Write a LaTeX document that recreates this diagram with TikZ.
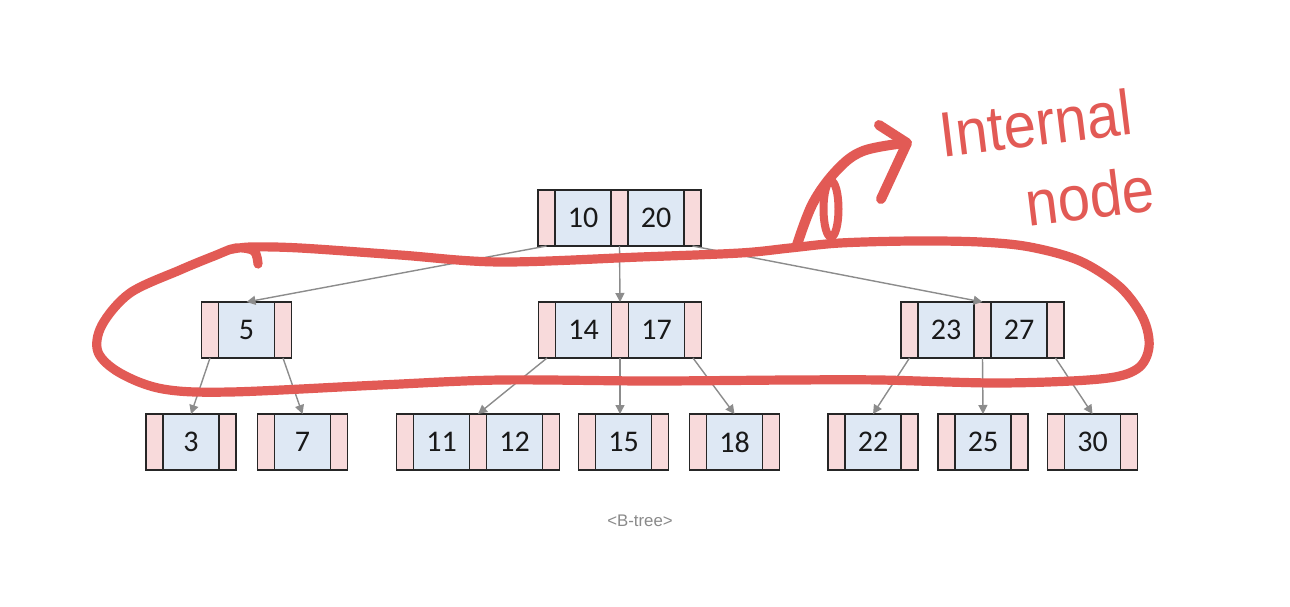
\documentclass[tikz,border=0pt]{standalone}
\usepackage{fontspec}
\setmainfont{Carlito}
\newfontfamily\capfont{Liberation Sans}
\newfontfamily\handfont{Liberation Sans}
\usetikzlibrary{arrows.meta}
\definecolor{ptrfill}{HTML}{F8DADB}
\definecolor{keyfill}{HTML}{DEE8F4}
\definecolor{edgegray}{HTML}{8C8C8C}
\definecolor{penred}{HTML}{E25A55}
\definecolor{capgray}{HTML}{8A8A8A}
\tikzset{
  ptrcell/.style={draw=black!85, line width=0.75pt, fill=ptrfill, minimum width=8.5pt, minimum height=28pt, inner sep=0pt, outer sep=0pt},
  keycell/.style={draw=black!85, line width=0.75pt, fill=keyfill, minimum width=28pt, minimum height=28pt, inner sep=0pt, outer sep=0pt, font=\fontsize{15}{18}\selectfont, text=black!90},
  treeedge/.style={draw=edgegray, line width=0.7pt, -{Triangle[length=4.5pt,width=4.5pt]}},
  penstroke/.style={draw=penred, line width=4.6pt, line cap=round, line join=round},
  handtext/.style={text=penred, font=\handfont\fontsize{29}{34}\selectfont, inner sep=0pt, rotate=7, yscale=1.1}
}
\newcommand{\bkeyone}[4]{%
  \node[keycell] (#1-k1) at (#2,#3) {#4};
  \node[ptrcell, anchor=east] (#1-p0) at (#1-k1.west) {};
  \node[ptrcell, anchor=west] (#1-p1) at (#1-k1.east) {};
}
\newcommand{\bkeytwo}[5]{%
  \node[ptrcell] (#1-p1) at (#2,#3) {};
  \node[keycell, anchor=east] (#1-k1) at (#1-p1.west) {#4};
  \node[ptrcell, anchor=east] (#1-p0) at (#1-k1.west) {};
  \node[keycell, anchor=west] (#1-k2) at (#1-p1.east) {#5};
  \node[ptrcell, anchor=west] (#1-p2) at (#1-k2.east) {};
}
\begin{document}
\begin{tikzpicture}[x=0.5pt, y=-0.5pt]
\fill[white] (0,0) rectangle (1290,606);
\path[use as bounding box] (0,0) rectangle (1290,606);

% level 1
\bkeytwo{root}{619.5}{218}{10}{20}
% level 2
\bkeyone{nfive}{246.5}{330}{5}
\bkeytwo{nmid}{620}{330}{14}{17}
\bkeytwo{nright}{982.5}{330}{23}{27}
% level 3
\bkeyone{lthree}{191}{442}{3}
\bkeyone{lseven}{302.5}{442}{7}
\bkeytwo{leleven}{478}{442}{11}{12}
\bkeyone{lfifteen}{623.5}{442}{15}
\bkeyone{leighteen}{734.5}{442}{18}
\bkeyone{ltwentytwo}{873}{442}{22}
\bkeyone{ltwentyfive}{983}{442}{25}
\bkeyone{lthirty}{1092.5}{442}{30}

% edges
\draw[treeedge] (root-p0.south) -- (nfive-k1.north);
\draw[treeedge] (root-p1.south) -- (nmid-p1.north);
\draw[treeedge] (root-p2.south) -- (nright-p1.north);
\draw[treeedge] (nfive-p0.south) -- (lthree-k1.north);
\draw[treeedge] (nfive-p1.south) -- (lseven-k1.north);
\draw[treeedge] (nmid-p0.south) -- (leleven-p1.north);
\draw[treeedge] (nmid-p1.south) -- (nmid-p1.south |- lfifteen-k1.north);
\draw[treeedge] (nmid-p2.south) -- (leighteen-k1.north);
\draw[treeedge] (nright-p0.south) -- (ltwentytwo-k1.north);
\draw[treeedge] (nright-p1.south) -- (ltwentyfive-k1.north);
\draw[treeedge] (nright-p2.south) -- (lthirty-k1.north);

% caption
\node[text=capgray, font=\capfont\fontsize{8.4}{10}\selectfont] (caption) at (640,521) {<B-tree>};

% hand-drawn loop
\draw[penstroke] plot[smooth, tension=0.55] coordinates {
  (258,264) (254,251) (236,248) (214,256) (180,270) (130,293) (102,325)
  (98,352) (120,373) (163,389) (230,392) (380,385) (500,380) (650,381)
  (790,380) (880,380) (1000,383) (1100,379) (1137,369) (1149,347)
  (1143,318) (1120,287) (1080,261) (1030,247) (980,242) (913,241)
  (840,243) (790,248) (740,253) (640,257) (500,262) (400,255) (300,248)
  (250,247) (228,250)};
% curl and arrow
\draw[penstroke, line width=4pt] (831,209) ellipse [x radius=7.5, y radius=28];
\draw[penstroke, line width=5pt] plot[smooth, tension=0.6] coordinates {
  (797,245) (813,203) (837,170) (863,151) (905,143)};
\draw[penstroke, line width=5pt] (879,125) -- (907,143) -- (881,199);

% handwritten label
\node[handtext] (lblinternal) at (1036,123) {Internal};
\node[handtext] (lblnode) at (1090,196) {node};
\end{tikzpicture}
\end{document}
